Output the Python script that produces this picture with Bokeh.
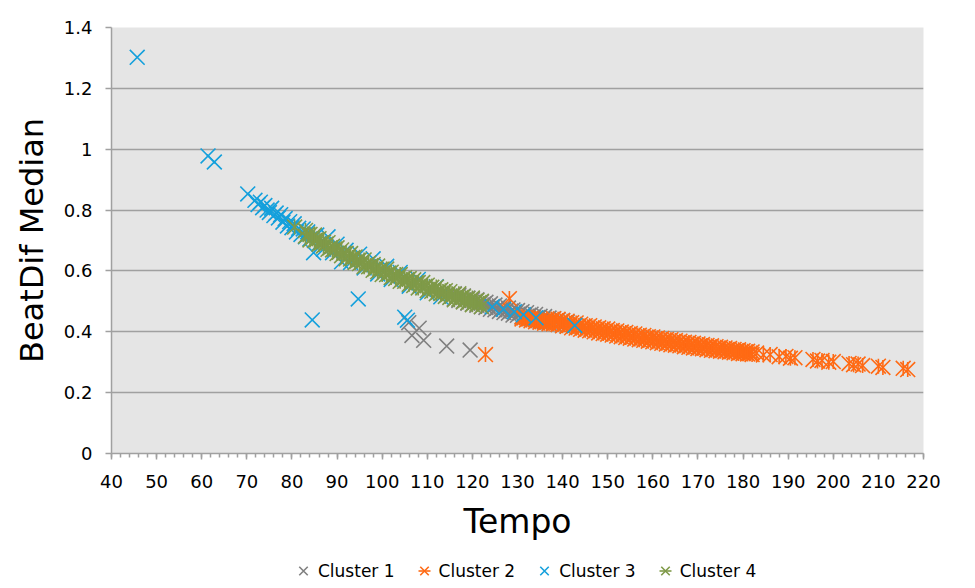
import math
from bokeh.plotting import figure
from bokeh.layouts import column
from bokeh.models import FixedTicker, Legend, LegendItem, Range1d
from bokeh.embed import file_html
from bokeh.resources import INLINE

# ---------------- data ----------------
x_ticks = [40, 50, 60, 70, 80, 90, 100, 110, 120, 130, 140, 150, 160, 170, 180, 190, 200, 210, 220]
x_minor_ticks = list(range(40, 221, 2))
y_ticks = [0, 0.2, 0.4, 0.6, 0.8, 1, 1.2, 1.4]
y_tick_labels = ["0", "0.2", "0.4", "0.6", "0.8", "1", "1.2", "1.4"]
series_names = ["Cluster 1", "Cluster 2", "Cluster 3", "Cluster 4"]

# Cluster 1 (grey x)
c1_band_tempo = [116, 117, 118, 119, 120, 121, 122, 123, 124, 125, 126, 127, 128,
                 129, 130, 131, 132, 133, 134, 135, 136, 137, 138, 139, 140, 141]
c1_band_upper = [0.525, 0.519, 0.518, 0.511, 0.506, 0.505, 0.498, 0.497, 0.492, 0.488, 0.485, 0.478, 0.478,
                 0.472, 0.470, 0.466, 0.463, 0.458, 0.457, 0.451, 0.450, 0.445, 0.443, 0.439, 0.437, 0.432]
c1_band_lower = [0.508, 0.503, 0.500, 0.494, 0.491, 0.487, 0.482, 0.480, 0.474, 0.472, 0.467, 0.463, 0.461,
                 0.455, 0.454, 0.448, 0.447, 0.442, 0.440, 0.435, 0.433, 0.429, 0.427, 0.424, 0.421, 0.419]
c1_mid_tempo = [116.5, 117.5, 118.5, 119.5, 120.5, 121.5, 122.5, 123.5, 124.5, 125.5, 126.5, 127.5, 128.5,
                129.5, 130.5, 131.5, 132.5, 133.5, 134.5, 135.5, 136.5, 137.5, 138.5, 139.5, 140.5]
c1_mid_value = [0.516, 0.510, 0.507, 0.501, 0.499, 0.493, 0.491, 0.485, 0.483, 0.477, 0.475, 0.470, 0.468,
                0.462, 0.461, 0.455, 0.454, 0.448, 0.447, 0.442, 0.441, 0.435, 0.434, 0.429, 0.428]
c1_out_tempo = [105.9, 106.6, 108.2, 109.2, 114.3, 119.5]
c1_out_value = [0.430, 0.388, 0.412, 0.372, 0.353, 0.340]

# Cluster 2 (orange star)
c2_band_tempo = [131, 132, 133, 134, 135, 136, 137, 138, 139, 140, 141, 142, 143, 144, 145, 146, 147,
                 148, 149, 150, 151, 152, 153, 154, 155, 156, 157, 158, 159, 160, 161, 162, 163, 164,
                 165, 166, 167, 168, 169, 170, 171, 172, 173, 174, 175, 176, 177, 178, 179, 180, 181, 182]
c2_band_upper = [0.450, 0.447, 0.444, 0.441, 0.439, 0.437, 0.435, 0.443, 0.441, 0.437, 0.435, 0.430, 0.429,
                 0.425, 0.420, 0.420, 0.416, 0.413, 0.410, 0.409, 0.404, 0.403, 0.399, 0.398, 0.394, 0.393,
                 0.389, 0.388, 0.384, 0.383, 0.380, 0.378, 0.375, 0.374, 0.371, 0.369, 0.366, 0.365, 0.362,
                 0.360, 0.358, 0.355, 0.354, 0.351, 0.349, 0.347, 0.345, 0.342, 0.341, 0.338, 0.336, 0.334]
c2_band_lower = [0.442, 0.439, 0.436, 0.433, 0.431, 0.428, 0.426, 0.426, 0.424, 0.420, 0.418, 0.413, 0.412,
                 0.408, 0.405, 0.403, 0.400, 0.396, 0.394, 0.392, 0.389, 0.386, 0.384, 0.381, 0.379, 0.376,
                 0.374, 0.372, 0.369, 0.367, 0.364, 0.362, 0.360, 0.357, 0.356, 0.354, 0.351, 0.349, 0.347,
                 0.345, 0.344, 0.341, 0.339, 0.338, 0.336, 0.334, 0.333, 0.331, 0.329, 0.328, 0.327, 0.325]
c2_mid_tempo = [131.5, 132.5, 133.5, 134.5, 135.5, 136.5, 137.5, 138.5, 139.5, 140.5, 141.5, 142.5, 143.5,
                144.5, 145.5, 146.5, 147.5, 148.5, 149.5, 150.5, 151.5, 152.5, 153.5, 154.5, 155.5, 156.5,
                157.5, 158.5, 159.5, 160.5, 161.5, 162.5, 163.5, 164.5, 165.5, 166.5, 167.5, 168.5, 169.5,
                170.5, 171.5, 172.5, 173.5, 174.5, 175.5, 176.5, 177.5, 178.5, 179.5, 180.5, 181.5]
c2_mid_value = [0.446, 0.443, 0.440, 0.437, 0.434, 0.431, 0.434, 0.435, 0.428, 0.429, 0.422, 0.423, 0.416,
                0.417, 0.410, 0.412, 0.405, 0.406, 0.399, 0.401, 0.394, 0.395, 0.389, 0.390, 0.384, 0.385,
                0.379, 0.381, 0.374, 0.376, 0.370, 0.371, 0.365, 0.367, 0.361, 0.362, 0.356, 0.358, 0.352,
                0.354, 0.348, 0.350, 0.344, 0.346, 0.340, 0.342, 0.336, 0.338, 0.332, 0.334, 0.329]
c2_pt_tempo = [122.9, 128.2, 183, 184.5, 186, 188, 189.5, 190.5, 191.5, 195.5, 196.5, 197.5, 199, 200,
               203.5, 204.5, 205.5, 206.5, 210, 211, 215.5, 216.5]
c2_pt_value = [0.325, 0.509, 0.330, 0.324, 0.325, 0.318, 0.319, 0.313, 0.315, 0.309, 0.304, 0.306, 0.300, 0.302,
               0.296, 0.292, 0.294, 0.289, 0.287, 0.283, 0.280, 0.276]

# Cluster 3 (blue x)
c3_tempo = [45.7, 61.4, 62.8, 70.2, 71.8, 72.5, 73.0, 73.5, 74.0, 74.5, 75.0, 75.5, 76.0, 76.5, 77.0,
            77.5, 78.0, 78.5, 79.0, 79.5, 80.0, 80.5, 81.0, 81.5, 82.0, 82.5, 83.0, 83.5, 84.0, 84.8,
            84.5, 85.5, 86.0, 87.0, 88.0, 89.0, 90.0, 91.0, 92.0, 93.0, 94.7, 95.0, 96.0, 98.0, 99.0,
            101.0, 102.0, 104.0, 105.0, 105.6, 106.0, 108.0, 110.0, 112.0, 113.0, 124.4, 126.9,
            129.3, 131.3, 134.1, 142.7]
c3_value = [1.302, 0.978, 0.958, 0.853, 0.832, 0.818, 0.826, 0.808, 0.815, 0.800, 0.792, 0.806, 0.782, 0.790,
            0.774, 0.785, 0.760, 0.772, 0.748, 0.762, 0.742, 0.755, 0.728, 0.740, 0.720, 0.738, 0.712, 0.728,
            0.705, 0.660, 0.439, 0.718, 0.690, 0.672, 0.712, 0.660, 0.688, 0.630, 0.668, 0.628, 0.508, 0.655,
            0.610, 0.640, 0.590, 0.615, 0.572, 0.595, 0.448, 0.438, 0.550, 0.572, 0.528, 0.548, 0.515, 0.482,
            0.474, 0.466, 0.456, 0.446, 0.421]

# Cluster 4 (green star)
c4_band_tempo = [83, 84, 85, 86, 87, 88, 89, 90, 91, 92, 93, 94, 95, 96, 97, 98, 99, 100, 101, 102,
                 103, 104, 105, 106, 107, 108, 109, 110, 111, 112, 113, 114, 115, 116, 117, 118, 119, 120, 121, 122]
c4_band_upper = [0.733, 0.720, 0.718, 0.706, 0.695, 0.693, 0.681, 0.676, 0.669, 0.658, 0.657, 0.646, 0.637,
                 0.636, 0.626, 0.621, 0.616, 0.606, 0.606, 0.596, 0.588, 0.588, 0.578, 0.575, 0.571, 0.562,
                 0.562, 0.553, 0.546, 0.547, 0.538, 0.535, 0.532, 0.523, 0.525, 0.516, 0.509, 0.511, 0.503, 0.500]
c4_band_lower = [0.714, 0.702, 0.700, 0.688, 0.682, 0.671, 0.669, 0.657, 0.650, 0.640, 0.639, 0.628, 0.624,
                 0.614, 0.614, 0.602, 0.597, 0.588, 0.588, 0.578, 0.575, 0.566, 0.566, 0.556, 0.552, 0.544,
                 0.544, 0.535, 0.533, 0.525, 0.526, 0.516, 0.513, 0.505, 0.507, 0.498, 0.496, 0.489, 0.491, 0.483]
c4_mid_tempo = [83.5, 84.5, 85.5, 86.5, 87.5, 88.5, 89.5, 90.5, 91.5, 92.5, 93.5, 94.5, 95.5, 96.5, 97.5,
                98.5, 99.5, 100.5, 101.5, 102.5, 103.5, 104.5, 105.5, 106.5, 107.5, 108.5, 109.5, 110.5,
                111.5, 112.5, 113.5, 114.5, 115.5, 116.5, 117.5, 118.5, 119.5, 120.5, 121.5]
c4_mid_value = [0.721, 0.708, 0.704, 0.692, 0.688, 0.676, 0.672, 0.661, 0.658, 0.647, 0.644, 0.633, 0.630,
                0.620, 0.617, 0.607, 0.605, 0.595, 0.593, 0.583, 0.582, 0.572, 0.571, 0.561, 0.560, 0.551,
                0.550, 0.541, 0.540, 0.531, 0.531, 0.522, 0.521, 0.513, 0.513, 0.504, 0.504, 0.496, 0.496]
c4_pt_tempo = [80.6]
c4_pt_value = [0.744]

# ---------------- styling ----------------
FONT = "DejaVu Sans"
GREY_LINE = "#A0A0A0"
C1 = "#808080"
C2 = "#FF6A14"
C3 = "#14A0DC"
C4 = "#7F9A48"
XS = 21      # x marker size
DS = 15      # vertical bar of the star marker
LW = 1.6

p = figure(width=975, height=550, x_range=Range1d(40, 220), y_range=Range1d(0, 1.4),
           output_backend="svg", toolbar_location=None,
           min_border_left=111, min_border_right=52, min_border_top=27, min_border_bottom=97)
p.background_fill_color = "#E5E5E5"
p.border_fill_color = "white"
p.outline_line_color = None

p.xgrid.grid_line_color = None
p.ygrid.grid_line_color = GREY_LINE
p.ygrid.grid_line_width = 1.5

p.xaxis.ticker = FixedTicker(ticks=x_ticks, minor_ticks=x_minor_ticks)
p.yaxis.ticker = FixedTicker(ticks=y_ticks)
p.yaxis.major_label_overrides = dict(zip(y_ticks, y_tick_labels))

for ax in (p.xaxis, p.yaxis):
    ax.axis_line_color = GREY_LINE
    ax.axis_line_width = 1.5
    ax.major_tick_line_color = GREY_LINE
    ax.major_tick_line_width = 1.5
    ax.minor_tick_line_color = GREY_LINE
    ax.minor_tick_line_width = 1.5
    ax.major_tick_in = 0
    ax.major_tick_out = 6
    ax.major_label_text_font = FONT
    ax.major_label_text_font_size = "18px"
    ax.major_label_text_color = "black"
    ax.axis_label_text_font = FONT
    ax.axis_label_text_font_style = "normal"
    ax.axis_label_text_color = "black"

p.xaxis.minor_tick_in = 0
p.xaxis.minor_tick_out = 4
p.yaxis.minor_tick_in = 0
p.yaxis.minor_tick_out = 0
p.xaxis.major_label_standoff = 15
p.yaxis.major_label_standoff = 13
p.xaxis.axis_label = "Tempo"
p.yaxis.axis_label = "BeatDif Median"
p.xaxis.axis_label_text_font_size = "33px"
p.yaxis.axis_label_text_font_size = "32px"
p.xaxis.axis_label_standoff = 11
p.yaxis.axis_label_standoff = 10


def xmarks(fig, xs, ys, color):
    return [fig.scatter(xs, ys, marker="x", size=XS, line_color=color, line_width=LW)]


def starmarks(fig, xs, ys, color):
    r1 = fig.scatter(xs, ys, marker="x", size=XS, line_color=color, line_width=LW)
    r2 = fig.scatter(xs, ys, marker="dash", size=DS, angle=math.pi / 2, line_color=color, line_width=LW)
    return [r1, r2]


xmarks(p, c1_band_tempo + c1_band_tempo + c1_mid_tempo + c1_out_tempo,
       c1_band_upper + c1_band_lower + c1_mid_value + c1_out_value, C1)
starmarks(p, c2_band_tempo + c2_band_tempo + c2_mid_tempo + c2_pt_tempo,
          c2_band_upper + c2_band_lower + c2_mid_value + c2_pt_value, C2)
xmarks(p, c3_tempo, c3_value, C3)
starmarks(p, c4_band_tempo + c4_band_tempo + c4_mid_tempo + c4_pt_tempo,
          c4_band_upper + c4_band_lower + c4_mid_value + c4_pt_value, C4)

# ---------------- legend strip (below the chart) ----------------
# The legend strip has its own (unit) ranges, so the series drawn into it for
# the legend keys fall outside its frame and only the legend keys are visible.
leg = figure(width=975, height=38, x_range=Range1d(0, 1), y_range=Range1d(0, 1),
             output_backend="svg", toolbar_location=None, min_border=0,
             x_axis_location=None, y_axis_location=None)
leg.outline_line_color = None
leg.grid.visible = False
leg.background_fill_color = "white"
leg.border_fill_color = "white"

lr = [xmarks(leg, c1_out_tempo, c1_out_value, C1),
      starmarks(leg, c2_pt_tempo, c2_pt_value, C2),
      xmarks(leg, c3_tempo, c3_value, C3),
      starmarks(leg, c4_pt_tempo, c4_pt_value, C4)]
legend = Legend(items=[LegendItem(label=n, renderers=r) for n, r in zip(series_names, lr)],
                orientation="horizontal", location=(177, 0),
                glyph_width=30, glyph_height=35, label_standoff=0, spacing=14,
                padding=0, margin=0, border_line_color=None, background_fill_alpha=0,
                label_text_font=FONT, label_text_font_size="17px", label_text_color="black")
leg.add_layout(legend, "center")

open("out.html", "w").write(file_html(column(p, leg, spacing=0), INLINE))
